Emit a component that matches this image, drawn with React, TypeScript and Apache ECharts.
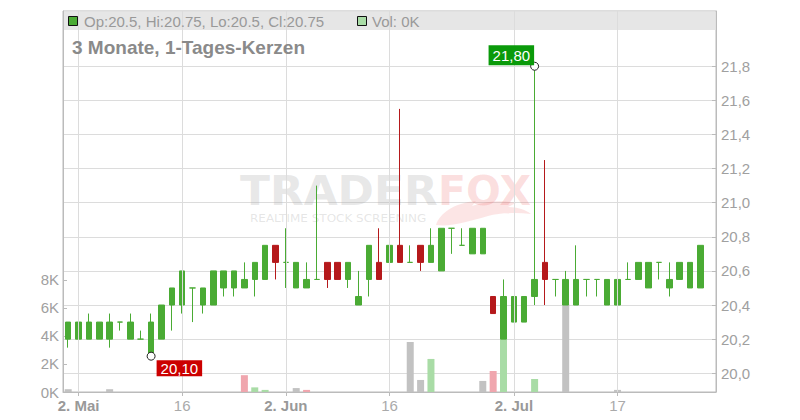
import React, { useEffect, useRef } from "react";
import * as echarts from "echarts";

// ---------- data ----------
const dates = [
  "2025-04-30", "2025-05-02", "2025-05-05", "2025-05-06", "2025-05-07", "2025-05-08", "2025-05-09",
  "2025-05-12", "2025-05-13", "2025-05-14", "2025-05-15", "2025-05-16", "2025-05-19", "2025-05-20",
  "2025-05-21", "2025-05-22", "2025-05-23", "2025-05-26", "2025-05-27", "2025-05-28", "2025-05-30",
  "2025-06-02", "2025-06-03", "2025-06-04", "2025-06-05", "2025-06-06", "2025-06-09", "2025-06-10",
  "2025-06-11", "2025-06-12", "2025-06-13", "2025-06-16", "2025-06-17", "2025-06-18", "2025-06-19",
  "2025-06-20", "2025-06-23", "2025-06-24", "2025-06-25", "2025-06-26", "2025-06-27", "2025-06-30",
  "2025-07-01", "2025-07-02", "2025-07-03", "2025-07-04", "2025-07-07", "2025-07-08", "2025-07-10",
  "2025-07-11", "2025-07-14", "2025-07-15", "2025-07-16", "2025-07-17", "2025-07-18", "2025-07-21",
  "2025-07-22", "2025-07-23", "2025-07-24", "2025-07-25", "2025-07-28", "2025-07-29", "2025-07-30",
];

const opens = [
  20.2, 20.2, 20.2, 20.2, 20.2, 20.3, 20.2, 20.2, 20.1, 20.2,
  20.4, 20.4, 20.5, 20.4, 20.4, 20.5, 20.5, 20.5, 20.55, 20.55,
  20.75, 20.65, 20.5, 20.5, 20.55, 20.65, 20.65, 20.55, 20.4, 20.55,
  20.65, 20.65, 20.75, 20.65, 20.75, 20.65, 20.6, 20.85, 20.75, 20.7,
  20.7, 20.45, 20.2, 20.3, 20.3, 20.45, 20.65, 20.55, 20.4, 20.4,
  20.55, 20.55, 20.4, 20.4, 20.55, 20.55, 20.5, 20.65, 20.5, 20.55,
  20.5, 20.5,
];
const closes = [
  20.3, 20.3, 20.3, 20.3, 20.3, 20.3, 20.3, 20.2, 20.3, 20.4,
  20.5, 20.6, 20.5, 20.5, 20.6, 20.6, 20.6, 20.55, 20.65, 20.75,
  20.65, 20.65, 20.65, 20.55, 20.55, 20.55, 20.55, 20.65, 20.45, 20.75,
  20.55, 20.75, 20.65, 20.65, 20.65, 20.75, 20.85, 20.85, 20.75, 20.85,
  20.85, 20.35, 20.45, 20.45, 20.45, 20.55, 20.55, 20.55, 20.55, 20.55,
  20.55, 20.55, 20.55, 20.55, 20.55, 20.65, 20.65, 20.65, 20.55, 20.65,
  20.65, 20.75,
];
const lows = [
  20.15, 20.2, 20.2, 20.2, 20.15, 20.25, 20.2, 20.2, 20.1, 20.2,
  20.25, 20.35, 20.3, 20.35, 20.4, 20.45, 20.45, 20.5, 20.45, 20.55,
  20.55, 20.5, 20.5, 20.5, 20.55, 20.5, 20.55, 20.5, 20.4, 20.45,
  20.55, 20.55, 20.65, 20.65, 20.6, 20.65, 20.6, 20.7, 20.75, 20.7,
  20.7, 20.35, 20.2, 20.3, 20.3, 20.4, 20.4, 20.45, 20.4, 20.4,
  20.45, 20.45, 20.4, 20.4, 20.55, 20.55, 20.5, 20.55, 20.45, 20.55,
  20.5, 20.5,
];
const highs = [
  20.3, 20.45, 20.35, 20.3, 20.35, 20.3, 20.35, 20.25, 20.35, 20.4,
  20.5, 20.6, 20.5, 20.5, 20.6, 20.6, 20.6, 20.65, 20.65, 20.75,
  20.75, 20.85, 20.65, 20.65, 21.1, 20.65, 20.65, 20.65, 20.6, 20.75,
  20.85, 20.75, 21.55, 20.75, 20.75, 20.85, 20.85, 20.85, 20.85, 20.85,
  20.85, 20.45, 20.55, 20.45, 20.45, 21.8, 21.25, 20.55, 20.6, 20.75,
  20.55, 20.55, 20.55, 20.55, 20.65, 20.65, 20.65, 20.65, 20.65, 20.65,
  20.65, 20.75,
];
// volume in thousands
const volumesK = [
  0.2, 0, 0, 0, 0.2, 0, 0, 0, 0, 0,
  0, 0, 0, 0, 0, 0, 0, 1.2, 0.33, 0.15,
  0, 0, 0.28, 0.15, 0, 0, 0, 0, 0, 0,
  0, 0, 0, 3.57, 0.86, 2.36, 0, 0, 0, 0,
  0.79, 1.5, 3.76, 0, 0, 0.93, 0, 0, 6.3, 0,
  0, 0, 0, 0.15, 0, 0, 0, 0, 0, 0,
  0, 0,
];

const priceTicks = [20.0, 20.2, 20.4, 20.6, 20.8, 21.0, 21.2, 21.4, 21.6, 21.8];
const volumeTicks = [0, 2, 4, 6, 8];
const xTicks = [
  { date: "2025-05-02", text: "2. Mai", bold: true },
  { date: "2025-05-16", text: "16", bold: false },
  { date: "2025-06-02", text: "2. Jun", bold: true },
  { date: "2025-06-16", text: "16", bold: false },
  { date: "2025-07-02", text: "2. Jul", bold: true },
  { date: "2025-07-17", text: "17", bold: false },
];
const legendText = "Op:20.5, Hi:20.75, Lo:20.5, Cl:20.75";
const volText = "Vol: 0K";
const subtitle = "3 Monate, 1-Tages-Kerzen";

// ---------- styles ----------
const GREEN = "#4aab34";
const RED = "#b5191b";
const VOL_UP = "#a9dca6";
const VOL_DOWN = "#f0a6ae";
const VOL_FLAT = "#c2c2c2";
const GRID = "#dcdcdc";
const AXIS = "#bbbbbb";
const FONT = '"Liberation Sans", Arial, sans-serif';

echarts.graphic.registerShape(
  "foxtail",
  echarts.graphic.extendPath(
    "M0,30 C4,18 18,8 40,6 L36,11 C50,6 66,5 80,8 L72,12 C82,12 90,15 95,19 C80,17 64,18 52,21 C34,26 16,32 0,30 Z",
    {}
  )
);

function volColor(i: number) {
  if (i === 0) return VOL_FLAT;
  if (closes[i] > closes[i - 1]) return VOL_UP;
  if (closes[i] < closes[i - 1]) return VOL_DOWN;
  return VOL_FLAT;
}

export default function App() {
  const ref = useRef<HTMLDivElement>(null);

  useEffect(() => {
    if (!ref.current) return;
    const chart = echarts.init(ref.current, undefined, { renderer: "svg" });

    const tickSet = new Set(xTicks.map((t) => t.date));
    const tickInterval = (_i: number, v: string) => tickSet.has(v);

    let hiIdx = 0;
    let loIdx = 0;
    highs.forEach((h, i) => { if (h > highs[hiIdx]) hiIdx = i; });
    lows.forEach((l, i) => { if (l < lows[loIdx]) loIdx = i; });
    const fmt2 = (v: number) => v.toFixed(2).replace(".", ",");

    const option: any = {
      animation: false,
      backgroundColor: "#fff",
      textStyle: { fontFamily: FONT },
      grid: {
        left: 63, right: 84, top: 11, bottom: 28,
        show: true, borderColor: AXIS, borderWidth: 1, backgroundColor: "transparent",
      },
      xAxis: {
        type: "category",
        data: dates,
        boundaryGap: true,
        axisLine: { show: true, lineStyle: { color: AXIS } },
        axisTick: { show: true, alignWithLabel: true, interval: tickInterval, length: 4, lineStyle: { color: AXIS } },
        axisLabel: {
          interval: tickInterval,
          margin: 6,
          formatter: (v: string) => {
            const t = xTicks.find((x) => x.date === v);
            if (!t) return "";
            return t.bold ? `{b|${t.text}}` : `{n|${t.text}}`;
          },
          rich: {
            b: { fontWeight: "bold", color: "#999", fontSize: 15, fontFamily: FONT },
            n: { color: "#aaa", fontSize: 15, fontFamily: FONT },
          },
        },
        splitLine: { show: false },
      },
      yAxis: [
        {
          type: "value",
          position: "left",
          min: 0,
          max: 27.2,
          axisLine: { show: true, lineStyle: { color: AXIS } },
          axisTick: { show: true, inside: true, length: 4, customValues: volumeTicks, lineStyle: { color: AXIS } },
          axisLabel: {
            customValues: volumeTicks,
            formatter: (v: number) => `${v}K`,
            color: "#a0a0a0",
            fontSize: 15,
            fontFamily: FONT,
            margin: 4,
          },
          splitLine: { show: false },
        },
        {
          type: "value",
          position: "right",
          min: 19.89,
          max: 22.124,
          axisLine: { show: true, lineStyle: { color: AXIS } },
          axisTick: { show: true, inside: true, length: 4, customValues: priceTicks, lineStyle: { color: AXIS } },
          axisLabel: {
            customValues: priceTicks,
            formatter: (v: number) => v.toFixed(1).replace(".", ","),
            color: "#a0a0a0",
            fontSize: 15,
            fontFamily: FONT,
            margin: 5,
          },
          splitLine: { show: true, lineStyle: { color: GRID, width: 1 } },
        },
      ],
      graphic: [
        {
          type: "rect", z: 0, silent: true,
          shape: { x: 63.5, y: 11.5, width: 652, height: 18.5 },
          style: { fill: "#e6e6e6" },
        },
        {
          type: "rect", z: 10, silent: true,
          shape: { x: 68.5, y: 16.5, width: 9, height: 9 },
          style: { fill: GREEN, stroke: "#111", lineWidth: 1 },
        },
        {
          type: "text", z: 10, silent: true, x: 84, y: 21.5,
          style: { text: legendText, fill: "#999", fontSize: 15, fontFamily: FONT, verticalAlign: "middle" },
        },
        {
          type: "rect", z: 10, silent: true,
          shape: { x: 357.5, y: 16.5, width: 9, height: 9 },
          style: { fill: VOL_UP, stroke: "#111", lineWidth: 1 },
        },
        {
          type: "text", z: 10, silent: true, x: 372, y: 21.5,
          style: { text: volText, fill: "#999", fontSize: 15, fontFamily: FONT, verticalAlign: "middle" },
        },
        {
          type: "text", z: 10, silent: true, x: 72, y: 47.5,
          style: {
            text: subtitle, fill: "#8a8a8a", fontSize: 19, fontWeight: "bold",
            fontFamily: FONT, verticalAlign: "middle",
          },
        },
        // watermark
        {
          type: "foxtail", z: 1, silent: true, x: 436, y: 195,
          style: { fill: "rgba(240,110,110,0.18)" },
        },
        {
          type: "text", z: 1, silent: true, x: 240, y: 191, scaleX: 1.07,
          style: {
            text: "TRADER", fill: "rgba(175,175,175,0.3)", fontSize: 41, fontWeight: "bold",
            fontFamily: '"DejaVu Sans", sans-serif', verticalAlign: "middle",
          },
        },
        {
          type: "text", z: 1, silent: true, x: 438, y: 191,
          style: {
            text: "FOX", fill: "rgba(240,110,110,0.22)", fontSize: 41, fontWeight: "bold",
            fontFamily: '"DejaVu Sans", sans-serif', verticalAlign: "middle",
          },
        },
        {
          type: "text", z: 1, silent: true, x: 250, y: 219, scaleX: 1.2,
          style: {
            text: "REALTIME STOCK SCREENING", fill: "rgba(175,175,175,0.32)", fontSize: 10,
            fontFamily: '"DejaVu Sans", sans-serif', verticalAlign: "middle",
          },
        },
      ],
      series: [
        {
          type: "bar",
          xAxisIndex: 0,
          yAxisIndex: 0,
          barWidth: 7,
          z: 2,
          data: volumesK.map((v, i) => ({ value: v, itemStyle: { color: volColor(i) } })),
          markLine: {
            silent: true,
            symbol: ["none", "none"],
            label: { show: false },
            lineStyle: { color: GRID, width: 1, type: "solid" },
            data: xTicks.map((t) => ({ xAxis: t.date })),
          },
        },
        {
          type: "candlestick",
          xAxisIndex: 0,
          yAxisIndex: 1,
          barWidth: 6,
          z: 3,
          data: opens.map((o, i) => [o, closes[i], lows[i], highs[i]]),
          itemStyle: {
            color: GREEN,
            color0: RED,
            borderColor: GREEN,
            borderColor0: RED,
            borderColorDoji: GREEN,
            borderWidth: 1,
          },
          markPoint: {
            silent: true,
            symbol: "circle",
            symbolSize: 8,
            itemStyle: { color: "#fff", borderColor: "#222", borderWidth: 1 },
            data: [
              {
                coord: [dates[hiIdx], highs[hiIdx]],
                value: highs[hiIdx],
                label: {
                  show: true,
                  position: "left",
                  distance: 0,
                  offset: [4, -11],
                  formatter: () => fmt2(highs[hiIdx]),
                  backgroundColor: "#0a9a0a",
                  color: "#fff",
                  fontSize: 15,
                  fontFamily: FONT,
                  lineHeight: 17,
                  padding: [2, 4, 1, 4],
                },
              },
              {
                coord: [dates[loIdx], lows[loIdx]],
                value: lows[loIdx],
                label: {
                  show: true,
                  position: "right",
                  distance: 0,
                  offset: [1, 12],
                  formatter: () => fmt2(lows[loIdx]),
                  backgroundColor: "#cc0000",
                  color: "#fff",
                  fontSize: 15,
                  fontFamily: FONT,
                  lineHeight: 16,
                  padding: [0, 4, 0, 4],
                },
              },
            ],
          },
        },
      ],
    };

    chart.setOption(option);
    return () => chart.dispose();
  }, []);

  return (
    <div
      ref={ref}
      style={{ position: "fixed", left: 0, top: 0, width: 800, height: 420, background: "#fff" }}
    />
  );
}
